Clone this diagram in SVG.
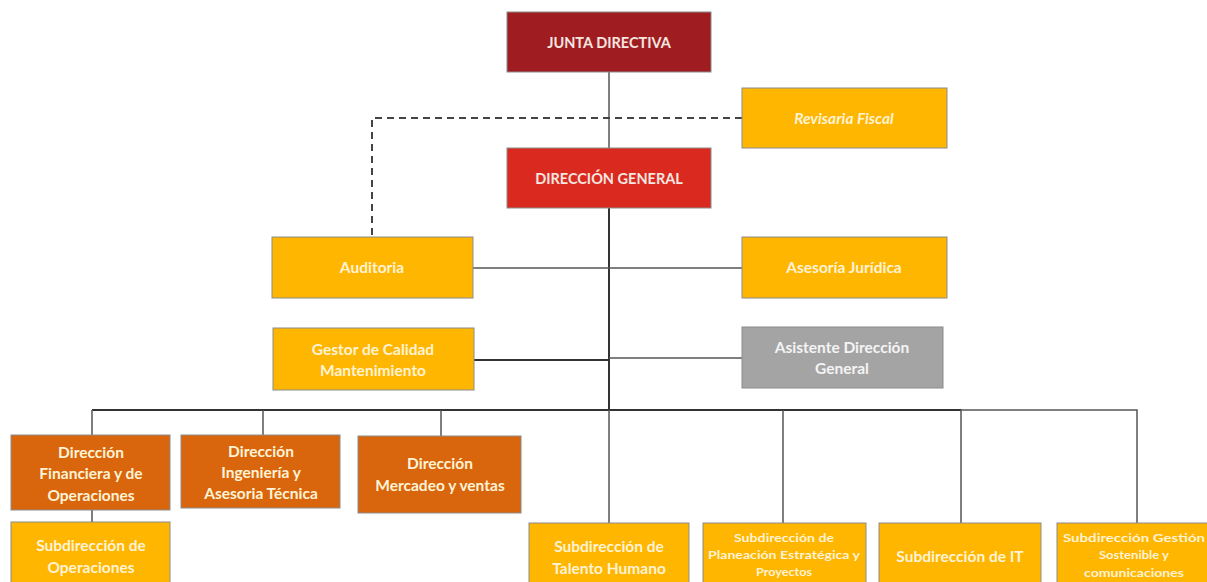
<svg xmlns="http://www.w3.org/2000/svg" width="1207" height="582" viewBox="0 0 1207 582">
<style>
.box{stroke:#8c8c8c;stroke-width:1}
.jd{fill:#9F1D20}
.dg{fill:#DA2A1F}
.ye{fill:#FFB600}
.or{fill:#D9660C}
.gr{fill:#A4A4A4}
text{font-family:Lato,"Liberation Sans",sans-serif;font-weight:bold;text-anchor:middle;fill:#FFF3D6;font-size:15.5px}
.w{fill:#F6E6E0}
.g{fill:#F4F4F4}
.s{font-size:11.5px}
.c{stroke:#333;stroke-width:2;fill:none}
.t{stroke:#555;stroke-width:1.5;fill:none}
.d{stroke:#444;stroke-width:2;fill:none;stroke-dasharray:7,5}
</style>
<rect width="1207" height="582" fill="#fff"/>
<g id="connectors">
<path class="t" d="M609,72V148"/>
<path class="d" d="M742,118H372V237"/>
<path class="c" d="M609,208V410"/>
<path class="t" d="M473,268H742"/>
<path class="c" d="M474,360H609"/>
<path class="t" d="M609,358H742"/>
<path class="c" d="M92,410H961"/>
<path class="t" d="M961,410H1137V523"/>
<path class="t" d="M92,410V435M263,410V435M441,410V436M609,410V523M783,410V523M961,410V523"/>
<path class="t" d="M92,510V522"/>
</g>
<g id="junta"><rect class="box jd" x="507" y="12" width="204" height="60"/><text class="w" x="609" y="48" style="font-size:14.5px">JUNTA DIRECTIVA</text></g>
<g id="revisaria"><rect class="box ye" x="742" y="88" width="205" height="60"/><text x="844" y="124" font-style="italic">Revisaria Fiscal</text></g>
<g id="direccion-general"><rect class="box dg" x="507" y="148" width="204" height="60"/><text class="w" x="609" y="184" style="font-size:14.5px">DIRECCIÓN GENERAL</text></g>
<g id="auditoria"><rect class="box ye" x="272" y="237" width="201" height="61"/><text x="372" y="273">Auditoria</text></g>
<g id="asesoria"><rect class="box ye" x="742" y="237" width="205" height="61"/><text x="844" y="273">Asesoría Jurídica</text></g>
<g id="gestor"><rect class="box ye" x="273" y="328" width="201" height="62"/><text x="373" y="355">Gestor de Calidad</text><text x="373" y="376">Mantenimiento</text></g>
<g id="asistente"><rect class="box gr" x="742" y="327" width="201" height="61"/><text class="g" x="842" y="353">Asistente Dirección</text><text class="g" x="842" y="374">General</text></g>
<g id="dir-financiera"><rect class="box or" x="11" y="435" width="159" height="75"/><text x="91" y="458">Dirección</text><text x="91" y="479">Financiera y de</text><text x="91" y="501">Operaciones</text></g>
<g id="dir-ingenieria"><rect class="box or" x="181" y="435" width="159" height="73"/><text x="261" y="457">Dirección</text><text x="261" y="478">Ingeniería y</text><text x="261" y="499">Asesoria Técnica</text></g>
<g id="dir-mercadeo"><rect class="box or" x="358" y="436" width="163" height="77"/><text x="440" y="469">Dirección</text><text x="440" y="491">Mercadeo y ventas</text></g>
<g id="sub-operaciones"><rect class="box ye" x="11" y="522" width="159" height="62"/><text x="91" y="551">Subdirección de</text><text x="91" y="573">Operaciones</text></g>
<g id="sub-talento"><rect class="box ye" x="529" y="523" width="160" height="61"/><text x="609" y="552">Subdirección de</text><text x="609" y="574">Talento Humano</text></g>
<g id="sub-planeacion"><rect class="box ye" x="703" y="523" width="163" height="61"/><text class="s" x="784" y="542" textLength="100" lengthAdjust="spacingAndGlyphs">Subdirección de</text><text class="s" x="784" y="559" textLength="152" lengthAdjust="spacingAndGlyphs">Planeación Estratégica y</text><text class="s" x="784" y="576" textLength="56" lengthAdjust="spacingAndGlyphs">Proyectos</text></g>
<g id="sub-it"><rect class="box ye" x="879" y="523" width="162" height="61"/><text x="960" y="562">Subdirección de IT</text></g>
<g id="sub-gestion"><rect class="box ye" x="1057" y="523" width="152" height="61"/><text class="s" x="1134" y="542" textLength="142" lengthAdjust="spacingAndGlyphs">Subdirección Gestión</text><text class="s" x="1134" y="559" textLength="70" lengthAdjust="spacingAndGlyphs">Sostenible y</text><text class="s" x="1134" y="577" textLength="100" lengthAdjust="spacingAndGlyphs">comunicaciones</text></g>
</svg>
